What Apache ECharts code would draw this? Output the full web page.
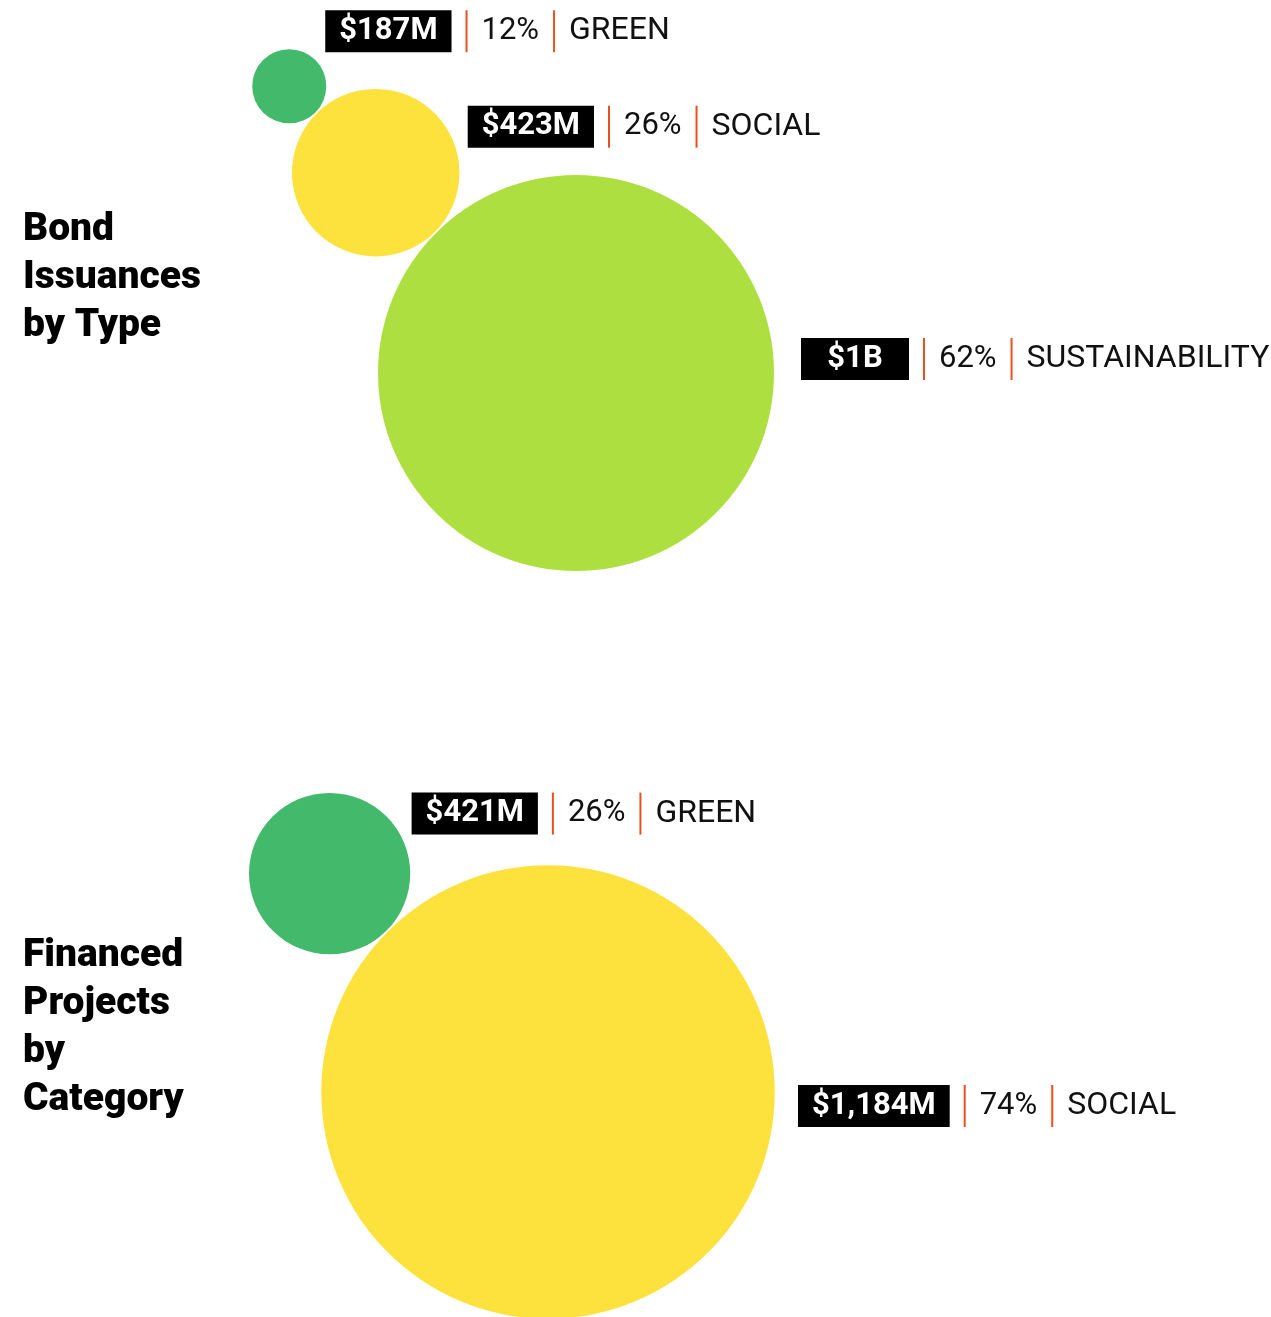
<!DOCTYPE html>
<html>
<head>
<meta charset="utf-8">
<script src="https://cdn.jsdelivr.net/npm/echarts@6/dist/echarts.min.js"></script>
<style>
  html, body { margin: 0; padding: 0; background: #fff; }
  #chart { width: 1271px; height: 1317px; }
</style>
</head>
<body>
<div id="chart"></div>
<script>
// bond issuances by type ($M)
const bondNames = ['GREEN', 'SOCIAL', 'SUSTAINABILITY'];
const bondValues = [187, 423, 1000];
const bondLabels = ['$187M', '$423M', '$1B'];
const bondShares = [12, 26, 62];

// financed projects by category ($M)
const projNames = ['GREEN', 'SOCIAL'];
const projValues = [421, 1184];
const projLabels = ['$421M', '$1,184M'];
const projShares = [26, 74];

const colors = {
  GREEN: '#43b96c',
  SOCIAL: '#fde23e',
  SUSTAINABILITY: '#aedf40'
};

// layout: where the biggest bubble sits, px radius per $M, label offsets from centre
const groups = [
  {
    names: bondNames, values: bondValues, labels: bondLabels, shares: bondShares,
    anchor: [576, 373], scale: 0.198,
    labelOffsets: [[36, -55], [92, -46], [225, -14]]
  },
  {
    names: projNames, values: projValues, labels: projLabels, shares: projShares,
    anchor: [548, 1092], scale: 0.1915,
    labelOffsets: [[82, -60], [250, 14]]
  }
];

const W = 1271, H = 1317;
const dir = [-Math.SQRT1_2, -Math.SQRT1_2]; // smaller bubbles chain up-left

function buildData(g) {
  // biggest first, each next one touching the previous
  let order = g.values.map((v, i) => i).sort((a, b) => g.values[b] - g.values[a]);
  let out = [];
  let prev = null;
  order.forEach(i => {
    let r = g.values[i] * g.scale;
    let c;
    if (!prev) {
      c = g.anchor.slice();
    } else {
      let d = prev.r + r + 1.5;
      c = [prev.c[0] + dir[0] * d, prev.c[1] + dir[1] * d];
    }
    prev = {c: c, r: r};
    let off = g.labelOffsets[i];
    let boxStyle = g.labels[i].length <= 4 ? 'boxw' : 'box';
    out.push({
      name: g.names[i],
      value: [c[0], c[1], g.values[i]],
      symbolSize: r * 2,
      itemStyle: {color: colors[g.names[i]], opacity: 1},
      label: {
        show: true,
        position: [r + off[0], r + off[1]],
        verticalAlign: 'middle',
        formatter: '{' + boxStyle + '|' + g.labels[i] + '}{g| }{bar| }{g| }{pct|' + g.shares[i] + '%}{g| }{bar| }{g| }{name|' + g.names[i] + '}'
      }
    });
  });
  return out;
}

const rich = {
  box: {
    backgroundColor: '#000', color: '#fff', fontFamily: 'Roboto', fontWeight: 'bold',
    fontSize: 31, height: 42, lineHeight: 42, padding: [0, 14]
  },
  boxw: {
    backgroundColor: '#000', color: '#fff', fontFamily: 'Roboto', fontWeight: 'bold',
    fontSize: 31, width: 82, align: 'center', height: 42, lineHeight: 42, padding: [0, 13]
  },
  g: {width: 14, height: 42},
  bar: {width: 2, height: 42, backgroundColor: '#e8501e'},
  pct: {color: '#111', fontFamily: 'Roboto', fontSize: 31, lineHeight: 42},
  name: {color: '#111', fontFamily: 'Roboto', fontSize: 32, lineHeight: 42}
};

const titleStyle = {fontFamily: 'Roboto', fontWeight: 900, fontSize: 39, lineHeight: 48, color: '#000'};

let chart = echarts.init(document.getElementById('chart'));
chart.setOption({
  animation: false,
  title: [
    {text: 'Bond\nIssuances\nby Type', left: 23, top: 206, padding: 0, textStyle: titleStyle},
    {text: 'Financed\nProjects\nby\nCategory', left: 23, top: 932, padding: 0, textStyle: titleStyle}
  ],
  grid: {left: 0, right: 0, top: 0, bottom: 0},
  xAxis: {type: 'value', min: 0, max: W, show: false},
  yAxis: {type: 'value', min: 0, max: H, inverse: true, show: false},
  series: groups.map(g => ({
    type: 'scatter',
    symbol: 'circle',
    silent: true,
    itemStyle: {opacity: 1},
    label: {rich: rich},
    data: buildData(g)
  }))
});
</script>
</body>
</html>
